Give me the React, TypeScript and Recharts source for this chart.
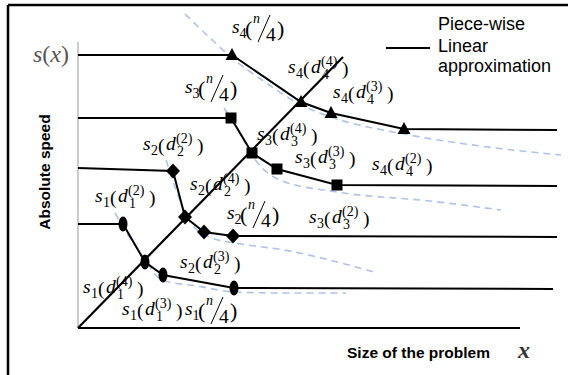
import React from 'react';
import { ComposedChart, XAxis, YAxis, Line, Scatter, ReferenceLine } from 'recharts';

// Piece-wise linear speed functions s1..s4 (problem size x, absolute speed y)
const s1Line = [
  { x: 0, y: 26 }, { x: 11.25, y: 26 }, { x: 16.75, y: 16.5 }, { x: 21.25, y: 13.25 }, { x: 39, y: 10 }, { x: 118.75, y: 9.75 },
];
const s2Line = [
  { x: 0, y: 40 }, { x: 23.75, y: 39.25 }, { x: 26.75, y: 27.75 }, { x: 31.5, y: 24 }, { x: 38.75, y: 23 }, { x: 119.75, y: 22.75 },
];
const s3Line = [
  { x: 0, y: 52.5 }, { x: 38.25, y: 52.5 }, { x: 43.5, y: 43.75 }, { x: 49.75, y: 39.75 }, { x: 64.75, y: 35.75 }, { x: 119.75, y: 35.5 },
];
const s4Line = [
  { x: 0, y: 68.25 }, { x: 38.5, y: 68.25 }, { x: 55.75, y: 56.5 }, { x: 63.25, y: 53.75 }, { x: 81.5, y: 49.75 }, { x: 119.75, y: 49.5 },
];

// Measured points on each function
const s1Marks = [{ x: 11.25, y: 26 }, { x: 16.75, y: 16.5 }, { x: 21.25, y: 13.25 }, { x: 39, y: 10 }];
const s2Marks = [{ x: 23.75, y: 39.25 }, { x: 26.75, y: 27.75 }, { x: 31.5, y: 24 }, { x: 38.75, y: 23 }];
const s3Marks = [{ x: 38.25, y: 52.5 }, { x: 43.5, y: 43.75 }, { x: 49.75, y: 39.75 }, { x: 64.75, y: 35.75 }];
const s4Marks = [{ x: 38.5, y: 68.25 }, { x: 55.75, y: 56.5 }, { x: 63.25, y: 53.75 }, { x: 81.5, y: 49.75 }];

// Full speed curves (dashed)
const s1Curve = [
  { x: 9.25, y: 28.75 }, { x: 13, y: 22.5 }, { x: 16, y: 18.25 }, { x: 21, y: 12 }, { x: 29.75, y: 10.5 }, { x: 39.25, y: 9 }, { x: 51.25, y: 8.75 }, { x: 67, y: 8.75 },
];
const s2Curve = [
  { x: 22, y: 42 }, { x: 24.5, y: 34.5 }, { x: 28, y: 26.5 }, { x: 33.5, y: 22.5 }, { x: 39.25, y: 21.25 }, { x: 51.5, y: 19.5 }, { x: 74, y: 14 },
];
const s3Curve = [
  { x: 36.5, y: 55 }, { x: 40.5, y: 48.75 }, { x: 44, y: 42.5 }, { x: 50.5, y: 37 }, { x: 64.75, y: 34 }, { x: 88, y: 31.75 }, { x: 105.75, y: 29.5 },
];
const s4Curve = [
  { x: 26.75, y: 78.5 }, { x: 33, y: 72.5 }, { x: 38.5, y: 67.5 }, { x: 46.75, y: 61.5 }, { x: 55.75, y: 55.75 }, { x: 63.25, y: 52.75 }, { x: 81.5, y: 48.5 }, { x: 100.5, y: 45.5 }, { x: 120.75, y: 43.25 },
];

// Diagonal through the equal-load points
const diagonal = [{ x: 0, y: 0 }, { x: 66.25, y: 67.75 }];

// Point annotations: s_k(n/4) or s_k(d_k^(j))
const annotations = [
  { x: 38.5, y: 73.75, k: '4', arg: 'n' },
  { x: 26.75, y: 58.75, k: '3', arg: 'n' },
  { x: 16.25, y: 44.5, k: '2', arg: 'd', j: '2' },
  { x: 28, y: 34.5, k: '2', arg: 'd', j: '4' },
  { x: 4.25, y: 31.5, k: '1', arg: 'd', j: '2' },
  { x: 1.25, y: 8.75, k: '1', arg: 'd', j: '4' },
  { x: 11, y: 3.25, k: '1', arg: 'd', j: '3' },
  { x: 26.75, y: 3.25, k: '1', arg: 'n' },
  { x: 25.5, y: 15, k: '2', arg: 'd', j: '3' },
  { x: 37.25, y: 27.25, k: '2', arg: 'n' },
  { x: 44.75, y: 47, k: '3', arg: 'd', j: '4' },
  { x: 54.25, y: 41.25, k: '3', arg: 'd', j: '3' },
  { x: 73.5, y: 39.5, k: '4', arg: 'd', j: '2' },
  { x: 57.75, y: 26.25, k: '3', arg: 'd', j: '2' },
  { x: 52.5, y: 63.75, k: '4', arg: 'd', j: '4' },
  { x: 63.75, y: 57.5, k: '4', arg: 'd', j: '3' },
];

const SERIF = '"Liberation Serif", "Times New Roman", serif';
const SANS = '"Liberation Sans", Arial, sans-serif';
const DASH = '#aec3e6';

const TriangleMark = (p: any) => (
  <polygon points={`${p.cx},${p.cy - 7} ${p.cx - 6.5},${p.cy + 5} ${p.cx + 6.5},${p.cy + 5}`} fill="#000" />
);
const SquareMark = (p: any) => <rect x={p.cx - 5.5} y={p.cy - 5.5} width={11} height={11} fill="#000" />;
const DiamondMark = (p: any) => (
  <polygon points={`${p.cx},${p.cy - 7.5} ${p.cx + 7},${p.cy} ${p.cx},${p.cy + 7.5} ${p.cx - 7},${p.cy}`} fill="#000" />
);
const EllipseMark = (p: any) => <ellipse cx={p.cx} cy={p.cy} rx={4.5} ry={7.5} fill="#000" />;

const F = 19.5;
const f = 14;

// Anchor is the left edge / baseline of the leading "s"
const MathLabel = (p: any) => {
  const a = p.payload;
  if (a.arg === 'n') {
    return (
      <g transform={`translate(${p.cx},${p.cy})`} fontFamily={SERIF} fill="#000">
        <text>
          <tspan x={0} y={0} fontSize={F} fontStyle="italic">s</tspan>
          <tspan x={7.5} y={5} fontSize={f}>{a.k}</tspan>
          <tspan x={13} y={3} fontSize={22}>(</tspan>
          <tspan x={21} y={-10} fontSize={14} fontStyle="italic">n</tspan>
          <tspan x={34} y={8} fontSize={F}>4</tspan>
          <tspan x={45} y={3} fontSize={22}>)</tspan>
        </text>
        <line x1={26} y1={9} x2={38} y2={-18} stroke="#000" strokeWidth={1} />
      </g>
    );
  }
  return (
    <g transform={`translate(${p.cx},${p.cy})`} fontFamily={SERIF} fill="#000">
      <text>
        <tspan x={0} y={0} fontSize={F} fontStyle="italic">s</tspan>
        <tspan x={8} y={5} fontSize={f}>{a.k}</tspan>
        <tspan x={15} y={2} fontSize={F}>(</tspan>
        <tspan x={23} y={0} fontSize={F} fontStyle="italic">d</tspan>
        <tspan x={33} y={-7} fontSize={f}>({a.j})</tspan>
        <tspan x={34} y={6} fontSize={f}>{a.k}</tspan>
        <tspan x={54} y={2} fontSize={F}>)</tspan>
      </text>
    </g>
  );
};

const W = 568;
const H = 375;

export default function App() {
  const dashed = { stroke: DASH, strokeWidth: 1.6, strokeDasharray: '7 5' };
  return (
    <div style={{ position: 'fixed', left: 0, top: 0, width: W, height: H, overflow: 'hidden', background: '#fff' }}>
      <div style={{ position: 'absolute', left: 0, top: 0 }}>
        <ComposedChart width={W} height={H} margin={{ top: 8, right: 2, bottom: 47, left: 78 }}>
          <XAxis type="number" dataKey="x" domain={[0, 122]} hide />
          <YAxis type="number" dataKey="y" domain={[0, 80]} hide />

          <ReferenceLine segment={[{ x: 0, y: 0 }, { x: 0, y: 71.5 }]} stroke="#999" strokeWidth={1} />
          <ReferenceLine segment={[{ x: 0, y: 0 }, { x: 110.5, y: 0 }]} stroke="#000" strokeWidth={2} />

          <Line data={s1Curve} dataKey="y" type="monotone" dot={false} {...dashed} isAnimationActive={false} />
          <Line data={s2Curve} dataKey="y" type="monotone" dot={false} {...dashed} isAnimationActive={false} />
          <Line data={s3Curve} dataKey="y" type="monotone" dot={false} {...dashed} isAnimationActive={false} />
          <Line data={s4Curve} dataKey="y" type="monotone" dot={false} {...dashed} isAnimationActive={false} />

          <Line data={diagonal} dataKey="y" type="linear" dot={false} stroke="#000" strokeWidth={2.2} isAnimationActive={false} />
          <Line data={s1Line} dataKey="y" type="linear" dot={false} stroke="#000" strokeWidth={2} isAnimationActive={false} />
          <Line data={s2Line} dataKey="y" type="linear" dot={false} stroke="#000" strokeWidth={2} isAnimationActive={false} />
          <Line data={s3Line} dataKey="y" type="linear" dot={false} stroke="#000" strokeWidth={2} isAnimationActive={false} />
          <Line data={s4Line} dataKey="y" type="linear" dot={false} stroke="#000" strokeWidth={2} isAnimationActive={false} />

          <Scatter data={s1Marks} dataKey="y" shape={EllipseMark} isAnimationActive={false} />
          <Scatter data={s2Marks} dataKey="y" shape={DiamondMark} isAnimationActive={false} />
          <Scatter data={s3Marks} dataKey="y" shape={SquareMark} isAnimationActive={false} />
          <Scatter data={s4Marks} dataKey="y" shape={TriangleMark} isAnimationActive={false} />

          <Scatter data={annotations} dataKey="y" shape={MathLabel} isAnimationActive={false} />
        </ComposedChart>
      </div>

      <svg width={W} height={H} style={{ position: 'absolute', left: 0, top: 0, pointerEvents: 'none' }}>
        <line x1={8} y1={5} x2={W} y2={5} stroke="#000" strokeWidth={2.5} />
        <line x1={8} y1={5} x2={8} y2={H} stroke="#000" strokeWidth={2.5} />

        <text x={33} y={62} fontFamily={SERIF} fontSize={24} fill="#555">
          <tspan fontStyle="italic">s</tspan>(<tspan fontStyle="italic">x</tspan>)
        </text>

        <text
          transform="translate(50,172) rotate(-90)"
          textAnchor="middle"
          fontFamily={SANS}
          fontWeight="bold"
          fontSize={15.5}
          fill="#000"
        >
          Absolute speed
        </text>

        <text x={347} y={358} fontFamily={SANS} fontWeight="bold" fontSize={15.5} fill="#000">
          Size of the problem
        </text>
        <text x={518} y={358} fontFamily={SERIF} fontStyle="italic" fontWeight="bold" fontSize={24} fill="#333">
          x
        </text>

        <line x1={386} y1={48} x2={430} y2={48} stroke="#000" strokeWidth={2} />
        <text fontFamily={SANS} fontSize={18} fill="#000">
          <tspan x={438} y={30}>Piece-wise</tspan>
          <tspan x={438} y={52}>Linear</tspan>
          <tspan x={438} y={72}>approximation</tspan>
        </text>
      </svg>
    </div>
  );
}
